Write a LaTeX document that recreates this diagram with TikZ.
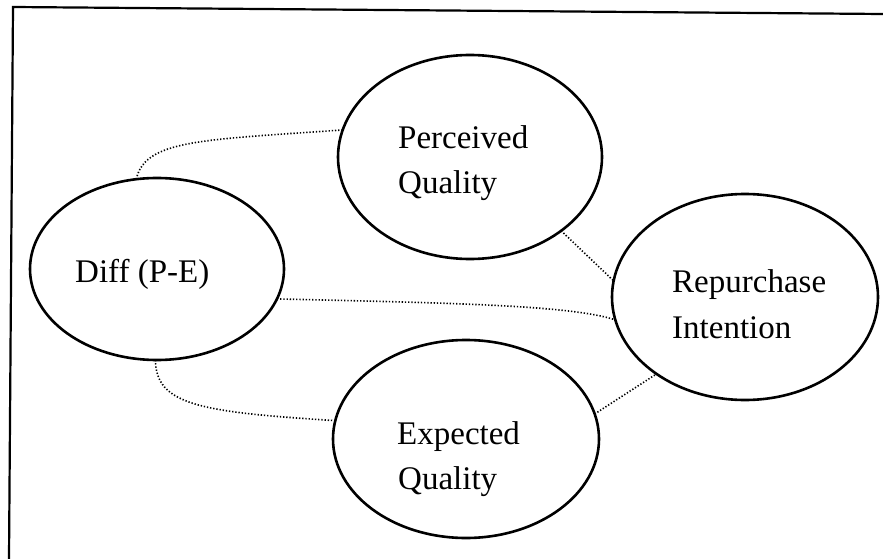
\documentclass[tikz,border=0pt]{standalone}
\usepackage{fontspec}
\setmainfont{Liberation Serif}
\usetikzlibrary{shapes.geometric}
\begin{document}
\begin{tikzpicture}[x=1pt,y=-1pt,
  bubble/.style={ellipse,draw,line width=2.6pt,inner sep=0pt,outer sep=0pt},
  label text/.style={anchor=base west,inner sep=0pt,font=\fontsize{33}{45}\selectfont},
  link/.style={line width=1.6pt,dash pattern=on 1.3pt off 1.9pt}]
\useasboundingbox (0,0) rectangle (883,559);

% frame
\coordinate (fr1) at (883,14);
\coordinate (fr2) at (13,7);
\coordinate (fr3) at (9,559);
\draw[line width=2.2pt] (fr1) -- (fr2) -- (fr3);

% ellipses
\node[bubble,minimum width=264pt,minimum height=204pt] (pq) at (470,157) {};
\node[bubble,minimum width=254pt,minimum height=182pt] (df) at (157,269) {};
\node[bubble,minimum width=266pt,minimum height=206pt] (ri) at (745,297) {};
\node[bubble,minimum width=266pt,minimum height=198pt] (eq) at (466,439) {};

% labels
\node[label text] (pq1) at (398,148) {Perceived};
\node[label text] (pq2) at (398,193) {Quality};
\node[label text] (df1) at (75,282) {Diff (P-E)};
\node[label text] (ri1) at (672,292) {Repurchase};
\node[label text] (ri2) at (672,338) {Intention};
\node[label text] (eq1) at (397,444) {Expected};
\node[label text] (eq2) at (398,489) {Quality};

% dotted connectors
\draw[link] (df.103.6) .. controls (145,140) and (200,140) .. (pq.168.7);
\draw[link] (df.-14.3) .. controls (450,303) and (570,305) .. (ri.190.8);
\draw[link] (df.269.4) .. controls (156,405) and (200,412) .. (eq.172.7);
\draw[link] (pq.-39.2) -- (ri.173.6);
\draw[link] (eq.11.6) -- (ri.221.5);
\end{tikzpicture}
\end{document}
